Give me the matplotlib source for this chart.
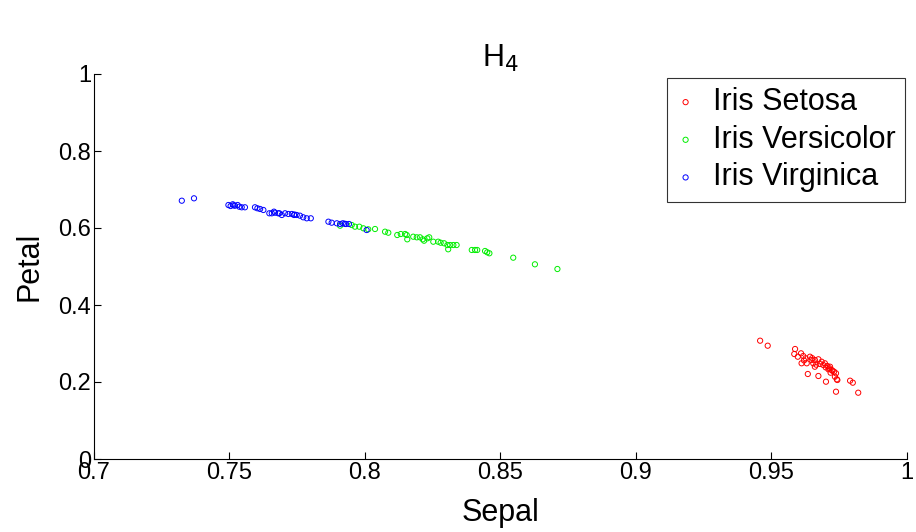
import matplotlib.pyplot as plt

plt.rcParams['font.family'] = ['Liberation Sans', 'DejaVu Sans']

# Sepal / Petal coordinates
setosa_x = [0.9458, 0.9486, 0.9587, 0.9584, 0.9597, 0.9609, 0.9617, 0.9626, 0.9642, 0.9648,
            0.9611, 0.9630, 0.9654, 0.9634, 0.9660, 0.9660, 0.9673, 0.9685, 0.9679, 0.9697,
            0.9706, 0.9710, 0.9716, 0.9722, 0.9718, 0.9731, 0.9738, 0.9741, 0.9734, 0.9673,
            0.9701, 0.9743, 0.9790, 0.9800, 0.9738, 0.9820, 0.9691, 0.9713, 0.9620, 0.9665,
            0.9700, 0.9725, 0.9650]
setosa_y = [0.3073, 0.2943, 0.2857, 0.2727, 0.2657, 0.2745, 0.2675, 0.2616, 0.2657, 0.2571,
            0.2486, 0.2486, 0.2486, 0.2208, 0.2397, 0.2571, 0.2590, 0.2527, 0.2468, 0.2486,
            0.2416, 0.2330, 0.2397, 0.2312, 0.2242, 0.2268, 0.2226, 0.2070, 0.2138, 0.2156,
            0.2008, 0.2052, 0.2034, 0.1982, 0.1748, 0.1722, 0.2442, 0.2356, 0.2560, 0.2450,
            0.2380, 0.2290, 0.2620]

versicolor_x = [0.7908, 0.7951, 0.7963, 0.7979, 0.7994, 0.8012, 0.8037, 0.8074, 0.8086, 0.8119,
                0.8132, 0.8148, 0.8154, 0.8156, 0.8178, 0.8191, 0.8203, 0.8213, 0.8218, 0.8230,
                0.8237, 0.8252, 0.8270, 0.8279, 0.8292, 0.8304, 0.8314, 0.8326, 0.8338, 0.8307,
                0.8394, 0.8406, 0.8414, 0.8443, 0.8451, 0.8459, 0.8547, 0.8627, 0.8710]
versicolor_y = [0.6060, 0.6078, 0.6034, 0.6034, 0.5992, 0.5966, 0.5974, 0.5904, 0.5878, 0.5818,
                0.5844, 0.5844, 0.5818, 0.5706, 0.5774, 0.5758, 0.5758, 0.5706, 0.5670, 0.5732,
                0.5758, 0.5644, 0.5644, 0.5618, 0.5603, 0.5558, 0.5558, 0.5558, 0.5558, 0.5447,
                0.5429, 0.5429, 0.5429, 0.5403, 0.5369, 0.5343, 0.5229, 0.5057, 0.4935]

virginica_x = [0.7324, 0.7369, 0.7496, 0.7504, 0.7512, 0.7520, 0.7530, 0.7536, 0.7545, 0.7557,
               0.7594, 0.7603, 0.7613, 0.7625, 0.7647, 0.7664, 0.7680, 0.7656, 0.7668, 0.7684,
               0.7693, 0.7705, 0.7717, 0.7730, 0.7738, 0.7748, 0.7760, 0.7772, 0.7785, 0.7800,
               0.7865, 0.7877, 0.7896, 0.7908, 0.7918, 0.7930, 0.7941, 0.8006, 0.7515, 0.7740,
               0.7925]
virginica_y = [0.6709, 0.6771, 0.6597, 0.6571, 0.6616, 0.6579, 0.6597, 0.6553, 0.6538, 0.6538,
               0.6538, 0.6512, 0.6494, 0.6468, 0.6382, 0.6424, 0.6382, 0.6382, 0.6397, 0.6382,
               0.6338, 0.6382, 0.6364, 0.6364, 0.6338, 0.6338, 0.6320, 0.6278, 0.6252, 0.6252,
               0.6164, 0.6138, 0.6122, 0.6104, 0.6122, 0.6104, 0.6104, 0.5948, 0.6590, 0.6350,
               0.6110]

xticks = [0.7, 0.75, 0.8, 0.85, 0.9, 0.95, 1]
xticklabels = ['0.7', '0.75', '0.8', '0.85', '0.9', '0.95', '1']
yticks = [0, 0.2, 0.4, 0.6, 0.8, 1]
yticklabels = ['0', '0.2', '0.4', '0.6', '0.8', '1']

fig = plt.figure(figsize=(9.16, 5.32), dpi=100)
ax = fig.add_axes([94 / 916, (532 - 459) / 532, 813 / 916, 385 / 532])

ms = 14
lw = 0.7
ax.scatter(setosa_x, setosa_y, s=ms, facecolors='none', edgecolors='#ff0000',
           linewidths=lw, label='Iris Setosa')
ax.scatter(versicolor_x, versicolor_y, s=ms, facecolors='none', edgecolors='#00ee00',
           linewidths=lw, label='Iris Versicolor')
ax.scatter(virginica_x, virginica_y, s=ms, facecolors='none', edgecolors='#0000ff',
           linewidths=lw, label='Iris Virginica')

ax.set_xlim(0.7, 1)
ax.set_ylim(0, 1)
ax.set_xticks(xticks)
ax.set_xticklabels(xticklabels)
ax.set_yticks(yticks)
ax.set_yticklabels(yticklabels)
ax.tick_params(direction='in', length=5, width=0.8, labelsize=17, pad=2)
ax.spines['top'].set_visible(False)
ax.spines['right'].set_visible(False)

ax.set_xlabel('Sepal', fontsize=22, labelpad=10)
ax.set_ylabel('Petal', fontsize=22, labelpad=10)
ax.set_title('H$_4$', fontsize=22, pad=0)

leg = ax.legend(loc='upper right', bbox_to_anchor=(905 / 916, (532 - 78) / 532),
                bbox_transform=fig.transFigure, fontsize=22, frameon=True, fancybox=False,
                borderpad=0.3, labelspacing=0.25, handlelength=0.6, handletextpad=0.6,
                borderaxespad=0)
leg.get_frame().set_edgecolor('black')
leg.get_frame().set_linewidth(0.8)

fig.savefig('out.png', dpi=100)
